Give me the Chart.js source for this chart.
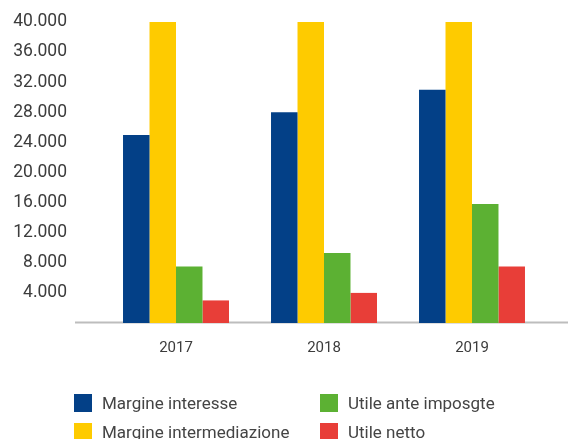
<!DOCTYPE html>
<html>
<head>
<meta charset="utf-8">
<script src="https://cdn.jsdelivr.net/npm/chart.js@4"></script>
<style>
  html, body { margin: 0; padding: 0; background: #fff; }
  #wrap { position: relative; width: 568px; height: 439px; overflow: hidden; }
  #legend { position: absolute; left: 74px; top: 394px; width: 494px;
    display: grid; grid-template-columns: 246px 248px; row-gap: 11px;
    font-family: Roboto, sans-serif; font-size: 17px; color: #444; }
  .item { display: flex; align-items: center; height: 18px; white-space: nowrap; }
  .box { width: 18px; height: 18px; margin-right: 10px; flex: none; }
</style>
</head>
<body>
<div id="wrap">
  <canvas id="barChart" width="568" height="439"></canvas>
  <div id="legend"></div>
</div>
<script>
document.addEventListener('DOMContentLoaded', function() {
  var ctx = document.getElementById('barChart').getContext('2d');

  // data
  var years = ['2017', '2018', '2019'];
  var margineInteresse = [25000, 28000, 31000];
  var margineIntermediazione = [40000, 40000, 40000];
  var utileAnteImposte = [7500, 9300, 15800];
  var utileNetto = [3000, 4000, 7500];

  var seriesNames = ['Margine interesse', 'Margine intermediazione', 'Utile ante imposgte', 'Utile netto'];
  var seriesColors = ['#034087', '#fecb00', '#5cb133', '#e83e38'];
  var seriesData = [margineInteresse, margineIntermediazione, utileAnteImposte, utileNetto];

  var datasets = [];
  for (var i = 0; i < seriesNames.length; i++) {
    datasets.push({
      label: seriesNames[i],
      data: seriesData[i],
      backgroundColor: seriesColors[i],
      borderWidth: 0
    });
  }

  // grey baseline running from under the tick labels to the right edge
  var baseline = {
    id: 'baseline',
    beforeDatasetsDraw: function(chart) {
      var y = chart.scales.y.getPixelForValue(0);
      var c = chart.ctx;
      c.save();
      c.strokeStyle = '#bdbdbd';
      c.lineWidth = 2;
      c.beginPath();
      c.moveTo(75, y - 0.5);
      c.lineTo(chart.width, y - 0.5);
      c.stroke();
      c.restore();
    }
  };

  var chart = new Chart(ctx, {
    type: 'bar',
    data: { labels: years, datasets: datasets },
    options: {
      responsive: false,
      animation: false,
      layout: { padding: { top: 22, right: 22, bottom: 76, left: 0 } },
      datasets: { bar: { categoryPercentage: 0.716, barPercentage: 1.0 } },
      plugins: { legend: { display: false }, tooltip: { enabled: false } },
      scales: {
        x: {
          grid: { display: false },
          border: { display: false },
          ticks: { color: '#3c3c3c', padding: 8, font: { family: 'Roboto', size: 15 } },
          afterFit: function(scale) { scale.height = 40; }
        },
        y: {
          min: 0,
          max: 40000,
          // tick length (not drawn) pushes the labels left without adding top padding
          grid: { display: false, tickLength: 30 },
          border: { display: false },
          ticks: {
            stepSize: 4000,
            padding: 5,
            color: '#3c3c3c',
            font: { family: 'Roboto', size: 17.5 },
            callback: function(v) {
              if (v === 0) return '';
              return v.toLocaleString('it-IT', { useGrouping: true }).replace(/\s/g, '.');
            }
          },
          afterFit: function(scale) { scale.width = 102; }
        }
      }
    },
    plugins: [baseline]
  });

  // two-column legend, column-major like the original
  var legend = document.getElementById('legend');
  var order = [0, 2, 1, 3];
  for (var k = 0; k < order.length; k++) {
    var j = order[k];
    var item = document.createElement('div');
    item.className = 'item';
    var box = document.createElement('span');
    box.className = 'box';
    box.style.background = seriesColors[j];
    item.appendChild(box);
    item.appendChild(document.createTextNode(seriesNames[j]));
    legend.appendChild(item);
  }
});
</script>
</body>
</html>
